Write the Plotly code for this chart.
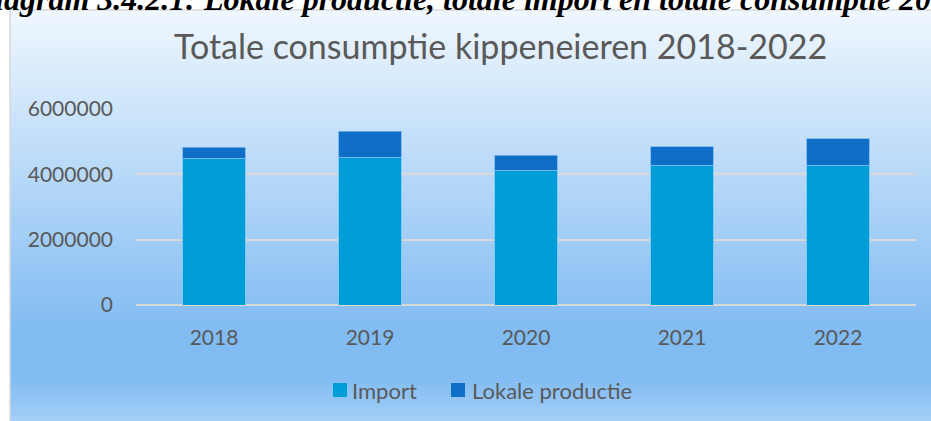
import plotly.graph_objects as go

# ---- data ----
years = ["2018", "2019", "2020", "2021", "2022"]
import_vals = [4490000, 4520000, 4120000, 4280000, 4280000]
lokaal_vals = [340000, 800000, 460000, 570000, 810000]
y_ticks = [0, 2000000, 4000000, 6000000]
series_names = ["Import", "Lokale productie"]
series_colors = ["#009DD9", "#0F6FC6"]
title_text = "Totale consumptie kippeneieren 2018-2022"
caption_text = "Diagram 3.4.2.1: Lokale productie, totale import en totale consumptie 2018-2022"

# ---- geometry (pixels) ----
W, H = 931, 421
L, R, T, B = 136, 15, 109, 116
PW = W - L - R
PH = H - T - B


def px(x):
    return (x - L) / PW


def py(y):
    return (H - B - y) / PH


TEXT = "#595959"
FONT = "Lato"

fig = go.Figure()
fig.add_trace(go.Bar(
    x=years, y=import_vals, name=series_names[0],
    marker=dict(color=series_colors[0], line=dict(color="rgba(120,200,245,0.8)", width=1)),
))
fig.add_trace(go.Bar(
    x=years, y=lokaal_vals, name=series_names[1],
    marker=dict(color=series_colors[1], line=dict(color="rgba(120,180,235,0.8)", width=1)),
))

# ---- background gradient of the chart box ----
box_top, box_bot = 10, 450
stops = [(0.0, (240, 247, 254)), (0.74, (128, 187, 242)),
         (0.83, (128, 187, 242)), (1.0, (185, 218, 250))]


def grad(t):
    for (t0, c0), (t1, c1) in zip(stops[:-1], stops[1:]):
        if t0 <= t <= t1:
            f = 0 if t1 == t0 else (t - t0) / (t1 - t0)
            return "rgb(%d,%d,%d)" % tuple(round(a + (b - a) * f) for a, b in zip(c0, c1))
    return "rgb(%d,%d,%d)" % stops[-1][1]


shapes = []
step = 2
yy = box_top
while yy < H:
    t = (yy + step / 2 - box_top) / (box_bot - box_top)
    shapes.append(dict(type="rect", xref="paper", yref="paper",
                       x0=px(10), x1=px(W + 10), y0=py(yy - 0.3), y1=py(yy + step + 0.3),
                       fillcolor=grad(t), line=dict(width=0), layer="below"))
    yy += step
shapes.append(dict(type="rect", xref="paper", yref="paper",
                   x0=px(10), x1=px(W + 20), y0=py(10), y1=py(box_bot),
                   fillcolor="rgba(0,0,0,0)", line=dict(color="#D9D9D9", width=1.5),
                   layer="below"))

# ---- legend (drawn manually for exact Excel-like spacing) ----
legend_items = [(333, 352), (451, 472)]  # (marker left, text left) in px
for (mx, tx), name, col in zip(legend_items, series_names, series_colors):
    shapes.append(dict(type="rect", xref="paper", yref="paper",
                       x0=px(mx), x1=px(mx + 14), y0=py(383), y1=py(397),
                       fillcolor=col, line=dict(width=0), layer="above"))

annotations = [
    dict(text=title_text, xref="paper", yref="paper", x=px(500.5), y=py(45),
         xanchor="center", yanchor="middle", showarrow=False,
         font=dict(family=FONT, size=34, color=TEXT)),
    dict(text="<b><i>" + caption_text + "</i></b>", xref="paper", yref="paper",
         x=px(-31), y=py(-1), xanchor="left", yanchor="middle", showarrow=False,
         font=dict(family="Liberation Serif", size=32, color="#000000")),
]
for (mx, tx), name in zip(legend_items, series_names):
    annotations.append(dict(text=name, xref="paper", yref="paper", x=px(tx - 2), y=py(390),
                            xanchor="left", yanchor="middle", showarrow=False,
                            font=dict(family=FONT, size=22, color=TEXT)))

fig.update_layout(
    width=W, height=H,
    margin=dict(l=L, r=R, t=T, b=B, pad=0),
    barmode="stack", bargap=0.6,
    paper_bgcolor="white", plot_bgcolor="rgba(0,0,0,0)",
    shapes=shapes, annotations=annotations,
    showlegend=False,
    font=dict(family=FONT, color=TEXT),
)
fig.update_xaxes(type="category", showgrid=False, zeroline=False, showline=False,
                 ticks="", tickfont=dict(family=FONT, size=21, color=TEXT),
                 ticklabelstandoff=18)
fig.update_yaxes(range=[0, 6000000], tickvals=y_ticks, tickformat="d",
                 showgrid=True, gridcolor="#D9D9D9", gridwidth=1.5,
                 zeroline=True, zerolinecolor="#D9D9D9", zerolinewidth=1.5,
                 showline=False, ticks="", ticklabelstandoff=22,
                 tickfont=dict(family=FONT, size=21, color=TEXT))

fig.write_html("out.html", config={"displayModeBar": False},
               post_script="document.body.style.margin='0';")
